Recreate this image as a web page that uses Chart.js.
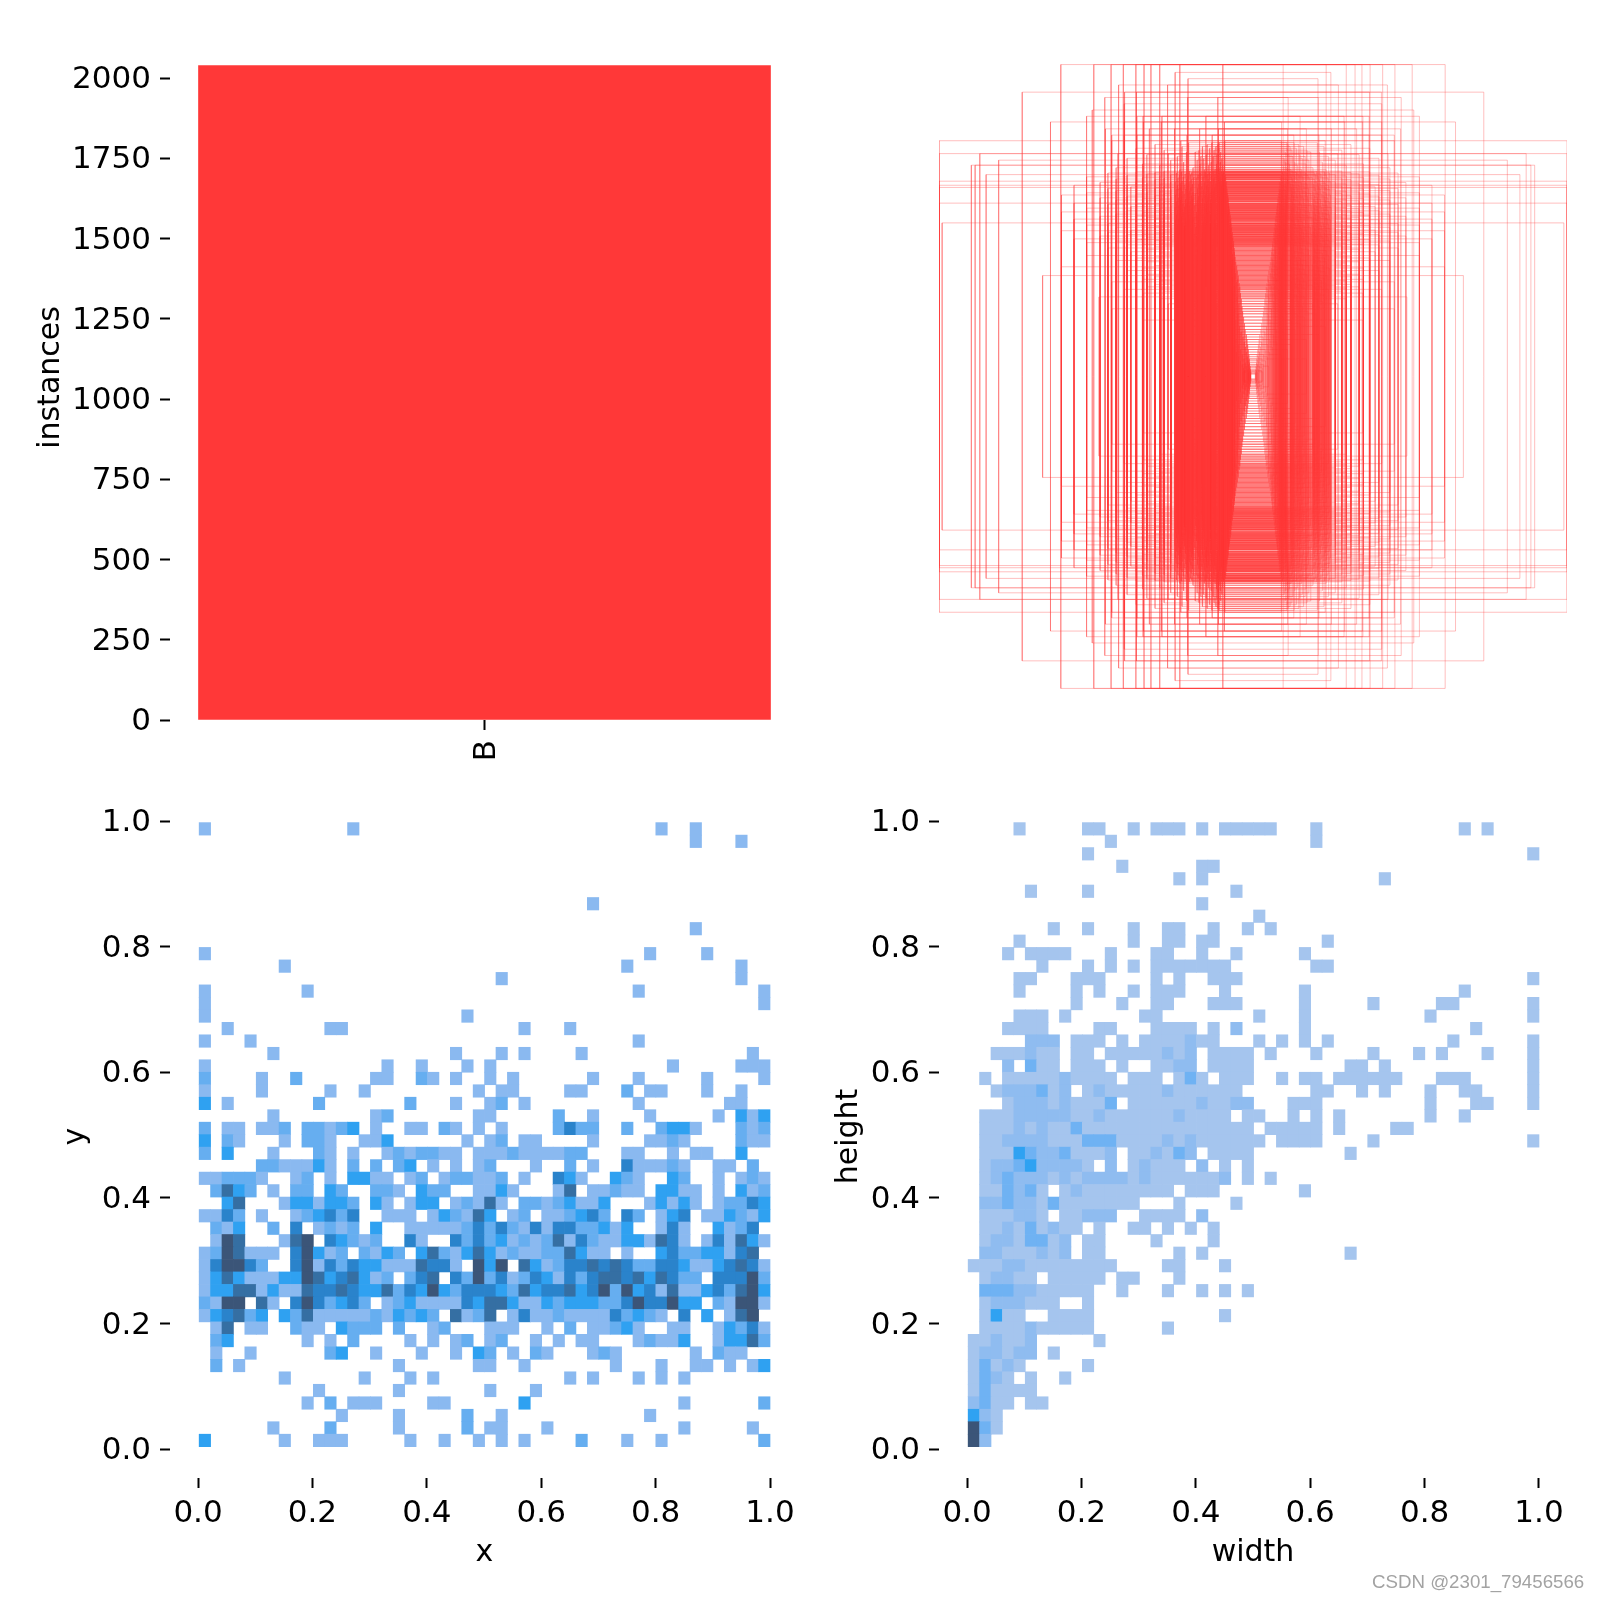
<!DOCTYPE html>
<html lang="en">
<head>
  <meta charset="UTF-8" />
  <title>labels</title>
  <script src="https://cdn.jsdelivr.net/npm/chart.js"></script>
  <style>
    * { margin: 0; padding: 0; box-sizing: border-box; }
    body { background: #fff; width: 1600px; height: 1600px; position: relative; overflow: hidden; }
    canvas { position: absolute; }
    #mark { position: absolute; left: 1372px; top: 1571px; font: 18.7px 'Liberation Sans', sans-serif; color: #a3a3a3; white-space: nowrap; }
  </style>
</head>
<body>
  <canvas id="instances" width="820" height="760" style="left:0;top:0"></canvas>
  <canvas id="boxes" width="800" height="760" style="left:800px;top:0"></canvas>
  <canvas id="xy" width="820" height="840" style="left:0;top:760px"></canvas>
  <canvas id="wh" width="800" height="840" style="left:800px;top:760px"></canvas>
  <div id="mark">CSDN @2301_79456566</div>

  <script>
    // class histogram
    const categories = ['B'];
    const instanceCounts = [2039];
    const countTicks = [0, 250, 500, 750, 1000, 1250, 1500, 1750, 2000];

    // tick values shared by the two histograms
    const unitTicks = [0, 0.2, 0.4, 0.6, 0.8, 1];
    const unitLabels = ['0.0', '0.2', '0.4', '0.6', '0.8', '1.0'];

    // 2d histogram rows, top row first, tokens are column:shade
    const xyRows = [
      '0:1 13:1 40:1 43:1', '43:1 47:1', '', '', '', '', '34:1', '', '43:1', '',
      '0:1 39:1 44:1', '7:1 37:1 47:1', '26:1 47:1', '0:1 9:1 38:1 49:1', '0:1 49:1', '0:1 23:1',
      '2:1 11:1 12:1 28:1 32:1', '0:1 4:1 38:1', '6:1 22:1 26:1 28:1 33:1 48:1',
      '0:1 16:1 19:1 23:1 25:1 41:1 47:1 48:1 49:1',
      '0:2 5:1 8:2 15:1 16:1 19:2 20:1 22:1 25:1 27:1 34:1 38:1 44:1 49:1',
      '0:1 5:1 11:1 14:1 24:1 26:1 27:1 32:1 33:1 37:2 39:1 40:1 44:1 47:1',
      '0:3 2:1 10:2 18:2 22:1 25:1 26:2 28:1 38:1 46:1 47:1',
      '6:1 15:1 16:2 24:1 25:1 31:2 34:1 39:1 45:1 47:3 48:1 49:3',
      '0:2 2:1 3:1 5:1 6:1 7:2 9:2 10:2 11:1 12:2 13:3 15:1 18:1 19:1 21:2 22:1 24:1 26:1 31:2 32:4 33:2 34:2 37:2 40:2 41:3 42:3 43:1 47:2 48:1 49:2',
      '0:3 2:2 3:1 7:1 9:2 10:2 11:1 14:1 15:1 16:3 23:1 25:1 26:2 28:1 29:1 34:1 39:1 40:1 41:2 42:1 47:2 48:1 49:1',
      '0:2 2:3 6:1 10:2 11:1 13:1 16:1 17:2 18:1 19:2 20:2 21:1 22:1 24:1 25:1 26:1 27:2 28:1 29:1 30:1 31:1 32:2 33:2 37:1 38:1 41:1 43:1 44:1 47:3',
      '5:2 6:2 7:1 8:1 9:1 10:3 11:1 13:2 15:2 17:2 18:3 20:1 22:1 24:1 25:2 29:1 32:2 34:1 37:4 38:1 39:1 40:1 41:2 42:1 45:1 46:1 48:2',
      '0:1 1:1 2:2 3:2 4:2 5:1 8:1 9:2 11:1 13:3 14:3 15:1 16:1 18:1 19:2 21:1 22:2 23:2 24:1 25:1 26:2 28:1 31:4 32:3 33:1 36:3 37:2 38:1 41:3 42:2 45:1 47:1 48:2 49:1',
      '1:2 2:5 3:3 4:2 6:1 8:2 9:2 11:3 12:2 15:2 16:2 17:1 19:3 20:2 21:2 24:1 25:1 26:3 27:1 31:1 32:5 34:1 35:1 36:2 37:1 38:1 40:3 41:3 42:1 43:1 45:1 47:3 48:1 49:2',
      '2:3 3:5 7:1 8:3 9:3 10:1 11:3 12:3 13:2 15:3 16:1 18:1 19:3 20:3 22:1 23:2 24:1 25:5 26:1 28:2 29:2 30:1 31:2 32:3 33:1 34:1 35:3 39:1 40:3 41:1 42:3 43:1 45:1 46:2 47:2 48:4 49:3',
      '0:1 1:1 2:4 3:2 5:1 8:1 9:2 10:3 11:4 12:2 13:4 16:1 17:1 18:1 20:1 21:3 22:2 23:1 24:5 25:3 27:1 28:2 30:1 31:1 32:2 33:3 34:4 35:2 37:4 38:2 40:1 41:3 42:4 44:1 45:1 46:3 47:2 48:1 49:3',
      '1:2 2:1 3:3 6:2 8:4 10:1 11:2 12:1 13:2 15:3 18:1 19:1 20:1 21:1 22:1 23:2 24:4 25:2 26:4 27:2 28:1 29:4 30:1 31:4 32:4 33:2 34:2 35:3 36:1 37:3 40:1 41:4 42:1 45:3 46:1 47:2 48:4',
      '1:1 2:6 3:5 7:1 8:5 9:6 11:4 12:3 13:2 14:1 15:2 18:4 19:1 22:4 23:2 24:4 25:2 26:3 27:1 28:2 29:1 30:2 31:5 32:1 33:4 34:2 35:1 36:1 37:3 38:3 39:1 40:5 41:4 42:1 44:1 45:4 46:1 47:5 48:3 49:1',
      '0:1 1:2 2:6 3:5 4:1 5:1 6:1 8:4 9:6 10:3 11:1 12:2 14:2 15:1 16:3 17:2 19:3 20:5 21:2 22:1 23:3 24:5 25:3 26:1 27:2 28:1 29:1 30:2 31:2 32:5 33:3 34:1 35:1 37:1 40:3 41:4 42:2 43:2 44:3 45:3 46:1 47:4 48:5',
      '0:1 1:4 2:6 3:6 4:4 5:2 8:4 9:6 10:1 11:4 12:2 13:4 14:3 15:3 16:1 17:1 18:1 19:5 20:4 21:4 22:1 24:6 25:3 26:6 28:5 29:3 30:1 31:2 32:4 33:4 34:5 35:4 36:5 37:4 38:2 39:2 40:4 41:4 42:3 43:1 44:1 45:3 46:4 47:5 48:4 49:1',
      '0:1 1:3 2:5 3:3 4:1 5:1 6:1 7:3 8:3 9:6 10:5 11:3 12:4 13:5 14:3 15:1 16:2 18:2 19:4 20:5 22:4 23:2 24:6 25:2 26:4 27:1 28:2 29:4 30:3 31:1 32:4 33:2 34:4 35:5 36:5 37:4 38:5 39:3 40:5 41:4 42:2 43:2 45:4 46:4 47:4 48:6 49:2',
      '0:1 1:3 2:3 3:5 4:5 5:1 6:3 7:1 8:1 9:5 10:4 11:4 12:5 13:4 14:3 15:3 16:5 17:2 18:4 19:3 20:6 21:3 22:2 23:4 24:4 25:4 26:3 27:2 28:5 29:3 30:4 31:4 32:5 33:3 34:4 35:6 36:2 37:6 38:3 39:4 40:1 41:5 42:1 43:1 44:3 45:4 46:2 47:5 48:6 49:3',
      '0:2 1:1 2:6 3:6 5:5 6:1 8:4 9:6 10:4 11:2 12:3 13:4 14:2 16:1 17:2 18:3 19:1 20:1 21:1 22:1 23:4 24:3 25:5 26:5 27:3 28:1 29:1 30:3 31:2 32:3 33:3 34:3 35:2 36:2 37:4 38:6 39:4 40:4 41:6 42:3 43:3 45:2 46:1 47:6 48:6 49:1',
      '0:1 1:3 2:4 3:5 4:2 5:3 7:3 8:2 9:5 10:1 11:1 12:1 13:1 14:1 15:2 16:1 17:3 18:2 19:3 20:2 22:5 23:1 24:2 25:5 27:1 28:4 29:1 30:1 31:2 32:1 33:1 34:1 35:1 36:4 37:2 38:3 39:2 40:1 42:4 44:3 46:1 47:5 48:6',
      '1:1 2:5 4:1 5:1 8:2 9:1 10:1 12:3 13:2 14:2 15:2 17:2 20:1 21:2 25:1 26:1 27:1 30:1 32:2 34:1 35:1 36:2 37:3 38:1 41:1 42:1 45:1 46:3 47:2 48:4 49:1',
      '1:2 2:3 9:1 11:1 13:2 18:1 20:1 22:1 23:2 25:1 26:2 29:1 31:1 33:1 34:1 38:1 39:2 40:1 41:1 42:3 45:1 46:3 47:3 48:5 49:2',
      '1:1 4:1 11:2 12:3 15:1 19:1 22:1 24:3 25:2 27:1 29:2 30:1 34:1 35:2 36:1 43:1 45:2 46:1 47:1',
      '1:2 3:1 17:1 24:1 25:1 28:1 36:1 40:1 43:1 44:1 46:1 48:1 49:3',
      '7:1 14:1 18:1 20:1 32:1 34:1 38:1 40:1 42:1',
      '10:1 17:1 25:1 29:1',
      '9:1 11:2 13:1 14:1 15:1 20:1 21:1 28:3 42:1 49:2',
      '12:1 17:1 23:2 26:1 39:1',
      '6:1 11:2 17:1 23:2 25:1 26:1 30:1 42:1 48:1',
      '0:3 7:1 10:1 11:1 12:1 18:1 21:1 24:1 26:1 28:1 33:2 37:1 40:1 49:2'
    ];

    const whRows = [
      '4:1 10:1 11:1 14:1 16:1 17:1 18:1 20:1 22:1 23:1 24:1 25:1 26:1 30:1 43:1 45:1',
      '12:1 30:1', '10:1 49:1', '13:1 20:1 21:1', '18:1 20:1 36:1', '5:1 10:1 23:1', '20:1', '25:1',
      '7:1 10:1 14:1 17:1 18:1 21:1 24:1 26:1',
      '4:1 14:1 17:1 18:1 20:1 21:1 31:1',
      '3:1 5:1 6:1 7:1 8:1 12:1 16:1 17:1 20:1 23:1 29:1',
      '6:1 10:1 12:1 14:1 16:1 17:1 18:1 19:1 20:1 21:1 22:1 30:1 31:1',
      '4:1 5:1 9:1 10:1 11:1 16:1 18:1 21:1 22:1 23:1 49:1',
      '4:1 9:1 11:1 14:1 16:1 17:1 18:1 22:1 29:1 43:1',
      '9:1 13:1 16:1 17:1 21:1 22:1 23:1 29:1 35:1 41:1 42:1 49:1',
      '4:1 5:1 6:1 8:1 15:1 16:1 25:1 29:1 40:1 49:1',
      '3:1 4:1 5:1 6:1 11:1 12:1 16:1 17:1 18:1 19:1 21:1 23:2 29:1 44:1',
      '5:2 6:2 7:2 9:1 10:1 11:1 13:1 15:1 16:1 17:1 18:1 19:2 20:1 21:1 25:1 27:1 29:1 31:1 42:1 49:1',
      '2:1 3:1 4:1 5:2 6:1 7:1 9:1 10:1 12:1 13:1 14:1 15:1 16:1 17:2 18:1 19:2 21:1 22:1 23:1 24:1 26:1 30:1 35:1 39:1 41:1 45:1 49:1',
      '3:2 5:3 6:1 7:1 9:1 10:1 11:1 13:1 16:1 17:1 18:2 19:2 21:1 22:1 23:1 24:1 33:1 34:1 36:1 49:1',
      '1:1 3:1 4:1 5:1 6:1 7:1 8:2 9:1 10:1 11:1 12:1 14:1 15:1 16:1 18:1 19:3 20:1 22:1 23:1 24:1 27:1 29:1 30:1 32:1 33:1 34:1 35:1 36:1 37:1 41:1 42:1 43:1 49:1',
      '2:1 3:2 4:2 5:2 6:3 7:1 8:2 10:1 11:2 12:1 13:1 14:1 15:1 16:1 17:2 18:1 19:1 20:1 21:1 22:1 23:1 30:1 31:1 34:1 36:1 40:1 43:1 44:1 49:1',
      '3:1 4:2 5:2 6:2 7:1 8:2 9:1 10:1 11:1 12:3 14:1 15:1 16:1 17:1 18:1 19:1 20:2 21:1 22:1 23:2 24:2 28:1 29:1 30:1 40:1 44:1 45:1 49:1',
      '1:1 2:1 3:1 4:2 5:2 6:2 7:2 8:2 9:1 10:1 11:2 12:1 13:1 14:1 15:1 16:1 17:1 18:2 19:1 20:1 21:1 22:1 24:1 25:1 28:1 30:1 32:1 40:1 43:1',
      '1:1 2:1 3:1 4:2 5:1 6:2 7:1 8:1 9:3 10:1 11:1 12:1 13:1 14:1 15:1 16:1 17:1 18:1 19:1 20:1 21:1 22:1 23:1 24:1 26:1 27:1 28:1 29:1 30:1 32:1 37:1 38:1',
      '1:1 2:1 3:2 4:2 5:2 6:2 7:1 8:1 9:1 10:3 11:3 12:3 13:1 14:1 15:1 16:1 17:2 18:1 19:2 20:1 21:1 22:1 23:1 24:1 25:1 27:1 28:1 29:1 30:1 35:1 49:1',
      '1:1 2:1 3:1 4:4 5:3 6:2 7:2 8:3 9:1 10:1 11:1 12:2 14:1 15:1 16:2 17:1 18:3 19:2 21:1 22:1 23:1 24:1 33:1',
      '1:1 2:2 3:2 4:3 5:4 6:2 7:2 8:2 9:2 10:1 12:2 14:1 15:2 16:1 17:1 18:1 20:2 22:1 24:1',
      '1:1 2:2 3:3 4:2 5:2 6:2 7:1 8:2 9:1 10:2 11:2 12:2 13:2 14:1 15:2 16:1 17:1 18:1 19:1 20:1 21:1 22:2 24:1 26:1',
      '1:1 2:1 3:3 4:2 5:3 6:1 8:1 9:2 10:1 11:1 12:1 13:1 14:1 15:1 16:1 17:1 19:1 20:1 21:1 29:1',
      '1:2 2:2 3:3 4:2 5:2 6:1 7:3 8:1 9:1 10:1 11:1 12:1 13:1 14:1 18:1 23:1',
      '1:1 2:1 3:1 4:2 5:2 6:1 8:1 9:1 10:2 11:2 12:2 15:1 16:1 17:1 18:1 20:2',
      '1:1 2:1 3:2 4:1 5:3 6:1 7:2 8:1 9:1 11:1 14:1 15:1 17:1 19:1 21:1',
      '1:1 2:2 3:2 4:1 5:3 6:3 7:1 8:2 10:1 11:1 16:1 21:1',
      '1:2 2:2 3:1 4:1 5:1 6:2 7:1 8:2 10:1 11:1 18:1 20:1 33:1',
      '0:1 1:1 2:1 3:2 4:2 5:1 6:1 7:1 8:1 9:1 10:1 11:1 12:1 17:1 18:1 22:1',
      '1:1 2:2 3:2 4:1 5:1 7:1 8:1 9:1 10:1 11:1 13:1 14:1 18:1',
      '1:3 2:3 3:3 4:2 5:2 6:1 7:1 8:1 9:1 10:1 13:1 17:1 20:1 22:1 24:1',
      '1:1 2:2 3:2 4:2 5:1 6:1 7:1 10:1',
      '1:1 2:4 3:1 4:1 7:1 8:1 9:1 10:1 22:1',
      '1:1 2:1 3:1 4:1 5:2 6:1 7:1 8:1 9:1 10:1 17:1',
      '0:1 1:1 2:2 3:1 4:1 5:2 11:1',
      '0:1 1:2 2:2 3:1 4:2 5:2 7:1',
      '0:1 1:3 2:1 3:2 4:1 10:1',
      '0:1 1:3 2:2 3:1 5:1 8:1',
      '0:1 1:3 2:1 3:1 4:1 5:1',
      '0:2 1:3 2:1 3:1 5:1 6:1',
      '0:4 1:2 2:1', '0:5 1:3 2:1', '0:5 1:2'
    ];

    // box sizes, each entry is [height, widths...]
    const boxGroups = [
      [.995, .096, .233, .297, .325, .347, .373, .413, .452, .507, .612],
      [.97, .248], [.95, .207], [.93, .272, .428], [.907, .371, .409, .735],
      [.89, .112, .208, .472], [.87, .41], [.85, .512], [.83, .15, .29, .35, .37, .53], [.812, .091, .292, .349, .41, .645],
      [.79, .11, .17, .25, .33, .47], [.77, .13, .21, .37, .41, .45], [.752, .09, .23, .45, 1], [.711, 1, .87, .27, .43],
      [.746, .108, .131, .205], [.74, .112, .146, .312], [.734, .118, .161, .226], [.728, .109, .138, .372], [.722, .124, .172, .283],
      [.716, .103, .184, .212], [.708, .115, .149, .338], [.702, .127, .166, .241], [.696, .099, .157, .401], [.69, .111, .178, .262, .81],
      [.684, .104, .133, .221], [.678, .116, .169, .352], [.674, .897, .885, .096, .142, .297], [.666, .108, .191, .436], [.66, .121, .155, .233],
      [.655, .093, .127, .203, .283], [.653, .101, .152, .228, .372], [.651, .094, .139, .195, .312], [.649, .108, .168, .244, .462], [.646, .097, .121, .216, .338],
      [.644, .85, .089, .146, .199, .262], [.642, .112, .175, .235, .401], [.64, .091, .133, .207, .297], [.637, .104, .159, .222, .53], [.635, .087, .124, .189, .352],
      [.633, .098, .181, .239, .283], [.63, .109, .143, .211, .436], [.628, .092, .127, .197, .312], [.623, 1, .084, .166, .226, .372], [.621, .106, .136, .248, .262],
      [.619, .095, .154, .204, .487], [.616, .088, .119, .232, .338], [.614, .103, .172, .193, .297], [.612, .091, .128, .217, .401], [.61, 1, .099, .147, .241, .57],
      [.607, .086, .163, .209, .283], [.605, .107, .122, .229, .389], [.603, 1, .094, .141, .198, .312], [.6, .083, .177, .236, .462], [.598, .101, .131, .214, .352],
      [.596, .09, .158, .245, .262], [.593, .105, .125, .202, .436], [.591, .085, .149, .224, .297], [.589, .096, .169, .191, .338], [.586, .081, .137, .233, .53],
      [.584, .102, .184, .207, .283], [.582, .089, .123, .219, .372], [.579, .093, .152, .247, .61], [.577, .08, .129, .196, .312], [.575, .107, .174, .227, .401],
      [.572, .087, .143, .205, .262], [.57, .098, .161, .238, .487], [.568, .079, .12, .192, .352], [.565, .103, .135, .215, .297], [.563, .091, .178, .231, .436],
      [.56, .084, .147, .2, .338], [.558, .099, .126, .243, .283], [.553, 1, .078, .165, .21, .57], [.551, .106, .132, .223, .372], [.549, .088, .155, .194, .462],
      [.546, .095, .186, .236, .312], [.544, .077, .121, .203, .262], [.542, .101, .142, .218, .389], [.539, .086, .172, .249, .297], [.537, .092, .128, .197, .53],
      [.535, .075, .151, .226, .338], [.532, .104, .166, .208, .283], [.53, .083, .124, .24, .401], [.528, .097, .139, .191, .312], [.525, .074, .18, .221, .61],
      [.523, .09, .146, .212, .352], [.521, .1, .119, .233, .262], [.518, .081, .159, .199, .436], [.516, .094, .134, .244, .297], [.514, .072, .175, .206, .372],
      [.511, .105, .127, .228, .487], [.509, .087, .153, .193, .283], [.507, .096, .188, .216, .338], [.504, .071, .122, .237, .312], [.502, .085, .144, .202, .57],
      [.5, .102, .168, .247, .401], [.497, .079, .131, .213, .262], [.495, .092, .157, .195, .297], [.49, .99, .07, .12, .225, .352], [.488, .098, .176, .204, .462],
      [.486, .083, .136, .241, .283], [.483, .074, .149, .19, .53], [.481, .103, .163, .218, .372], [.479, .088, .125, .232, .312], [.476, .068, .183, .209, .436],
      [.474, .095, .14, .196, .338], [.472, .08, .155, .245, .262], [.469, .1, .118, .222, .297], [.467, .072, .171, .201, .389], [.465, .09, .13, .235, .61],
      [.462, .084, .147, .192, .283], [.46, .066, .161, .214, .462], [.458, .105, .124, .228, .312], [.455, .077, .187, .206, .352], [.453, .093, .137, .248, .401],
      [.451, .069, .152, .198, .262], [.448, .087, .121, .22, .487], [.446, .099, .178, .239, .297], [.444, .064, .143, .203, .338], [.441, .081, .165, .226, .283],
      [.439, .094, .127, .191, .57], [.437, .071, .158, .212, .372], [.434, .102, .134, .243, .312], [.432, .062, .173, .2, .436], [.43, .086, .119, .23, .262],
      [.427, .076, .15, .194, .53], [.425, .097, .184, .217, .297], [.422, .063, .129, .238, .352], [.42, .089, .141, .205, .401], [.417, .068, .167, .224, .283],
      [.414, .083, .122, .246, .312], [.41, .06, .155, .196, .462], [.406, .093, .176, .21, .338], [.402, .072, .132, .233, .262], [.398, .059, .145, .201, .389],
      [.394, .086, .162, .221, .297], [.39, .066, .126, .192, .283], [.386, .079, .181, .241, .53], [.382, .057, .138, .207, .312], [.378, .091, .151, .228, .372],
      [.374, .063, .12, .197, .262], [.37, .074, .169, .214, .436], [.366, .055, .142, .235, .338], [.362, .084, .128, .203, .297], [.358, .068, .157, .19, .283],
      [.354, .052, .178, .224, .312], [.35, .077, .123, .209, .61], [.346, .06, .147, .243, .352], [.342, .088, .164, .195, .262], [.338, .05, .131, .217, .401],
      [.334, .071, .153, .23, .297], [.33, .056, .119, .2, .283], [.326, .082, .172, .212, .338], [.322, .047, .14, .238, .67], [.318, .065, .126, .193, .312],
      [.314, .075, .16, .226, .262], [.31, .049, .148, .205, .352], [.306, .09, .121, .218, .297], [.302, .053, .17, .196, .45], [.298, .044, .135, .232, .283],
      [.294, .069, .155, .208, .312], [.29, .058, .124, .191, .262], [.286, .042, .144, .22, .338], [.282, .08, .166, .203, .297], [.278, .048, .129, .24, .41],
      [.272, .063, .15, .198, .283], [.266, .04, .118, .214, .35], [.26, .072, .139, .227, .262], [.254, .051, .163, .193, .49], [.248, .037, .125, .206, .297],
      [.24, .066, .146, .221], [.232, .045, .115, .19, .27], [.224, .035, .158, .211], [.216, .059, .132, .197, .45], [.208, .033, .108, .175],
      [.2, .048, .141, .202], [.19, .03, .097, .163], [.18, .055, .122, .35], [.17, .027, .086, .15], [.16, .043, .11, .23],
      [.15, .025, .075, .134], [.142, .038, .099], [.134, .021, .065, .21], [.126, .032, .088], [.118, .019, .054, .17],
      [.11, .028, .076], [.102, .017, .047, .12], [.094, .024, .062], [.086, .015, .039, .11], [.078, .021, .053],
      [.07, .013, .034, .09], [.063, .018, .046], [.056, .012, .029, .17], [.05, .016, .04], [.044, .011, .025],
      [.038, .014, .034], [.033, .009, .021, .05], [.028, .012, .03], [.023, .008, .018], [.019, .011, .027],
      [.015, .007, .013, .031], [.011, .009, .016], [.008, .008, .012]
    ];

    const xyShades = ['#8ab9f0', '#66aef0', '#2fa1f1', '#2a83cb', '#356fa3', '#3b5578'];
    const whShades = ['#a5c5ee', '#8fbcf0', '#6fb2f3', '#2fa2f2', '#3b5578'];

    Chart.defaults.font.family = "'DejaVu Sans', sans-serif";
    Chart.defaults.font.size = 31;
    Chart.defaults.color = '#000';
    Chart.defaults.animation = false;
    Chart.defaults.plugins.legend.display = false;
    Chart.defaults.plugins.tooltip.enabled = false;

    const tickGrid = { drawOnChartArea: false, offset: false, tickLength: 10, tickWidth: 2, tickColor: '#000' };

    function axis(values, labels, min, max, size, title, titlePadding) {
      const horizontal = titlePadding && titlePadding.bottom !== undefined;
      return {
        type: 'linear',
        offset: false,
        min,
        max,
        grid: tickGrid,
        border: { display: false },
        ticks: {
          autoSkip: false,
          maxRotation: 0,
          padding: horizontal ? 7 : 9,
          labelOffset: horizontal ? 0 : 2,
          callback: (v, i) => labels[i]
        },
        afterBuildTicks: (s) => { s.ticks = values.map((v) => ({ value: v })); },
        afterFit: (s) => { if (s.isHorizontal()) s.height = size; else s.width = size; },
        title: { display: !!title, text: title, padding: titlePadding, font: { size: 30 } }
      };
    }

    function cells(rows, shades) {
      const data = [];
      const colors = [];
      const xBin = 0.998 / 50;
      const yBin = 0.9943 / 50;
      rows.forEach((row, r) => {
        if (!row) return;
        row.split(' ').forEach((token) => {
          const [c, level] = token.split(':').map(Number);
          const lo = 0.0037 + (49 - r) * yBin;
          data.push({ x: 0.002 + (c + 0.5) * xBin, y: [lo, lo + yBin] });
          colors.push(shades[level - 1]);
        });
      });
      return { data, backgroundColor: colors, barThickness: 11.45, borderWidth: 0 };
    }

    new Chart(document.getElementById('instances'), {
      type: 'bar',
      data: {
        datasets: [{
          data: categories.map((c, i) => ({ x: i, y: instanceCounts[i] })),
          backgroundColor: '#ff3838',
          barThickness: 572
        }]
      },
      options: {
        responsive: false,
        layout: { padding: { top: 35, right: 21 } },
        scales: {
          x: Object.assign(axis([0], categories, -0.549, 0.549, 40), {
            ticks: { autoSkip: false, minRotation: 90, maxRotation: 90, padding: 10, labelOffset: 2, callback: (v, i) => categories[i] }
          }),
          y: axis(countTicks, countTicks.map(String), 0, 2134, 170, 'instances', { top: 33 })
        }
      }
    });

    // every box is drawn as a closed outline centred on the panel
    const boxSets = [];
    boxGroups.forEach(([h, ...widths]) => {
      widths.forEach((w) => {
        boxSets.push({
          data: [
            { x: -w / 2, y: -h / 2 }, { x: w / 2, y: -h / 2 }, { x: w / 2, y: h / 2 },
            { x: -w / 2, y: h / 2 }, { x: -w / 2, y: -h / 2 }
          ],
          showLine: true,
          pointRadius: 0,
          borderWidth: 1,
          borderColor: 'rgba(255,56,56,0.32)'
        });
      });
    });

    new Chart(document.getElementById('boxes'), {
      type: 'scatter',
      data: { datasets: boxSets },
      options: {
        responsive: false,
        layout: { padding: { left: 139, right: 33, top: 63, bottom: 70 } },
        scales: {
          x: { display: false, min: -0.5, max: 0.5 },
          y: { display: false, min: -0.5, max: 0.5 }
        }
      }
    });

    new Chart(document.getElementById('xy'), {
      type: 'bar',
      data: { datasets: [cells(xyRows, xyShades)] },
      options: {
        responsive: false,
        layout: { padding: { top: 35, right: 21 } },
        scales: {
          x: axis(unitTicks, unitLabels, -0.049, 1.0507, 122, 'x', { bottom: 29 }),
          y: axis(unitTicks, unitLabels, -0.0462, 1.042, 170, 'y', { top: 58 })
        }
      }
    });

    new Chart(document.getElementById('wh'), {
      type: 'bar',
      data: { datasets: [cells(whRows, whShades)] },
      options: {
        responsive: false,
        layout: { padding: { top: 35, right: 33 } },
        scales: {
          x: axis(unitTicks, unitLabels, -0.049, 1.049, 122, 'width', { bottom: 29 }),
          y: axis(unitTicks, unitLabels, -0.0462, 1.042, 139, 'height', { top: 31 })
        }
      }
    });
  </script>
</body>
</html>
